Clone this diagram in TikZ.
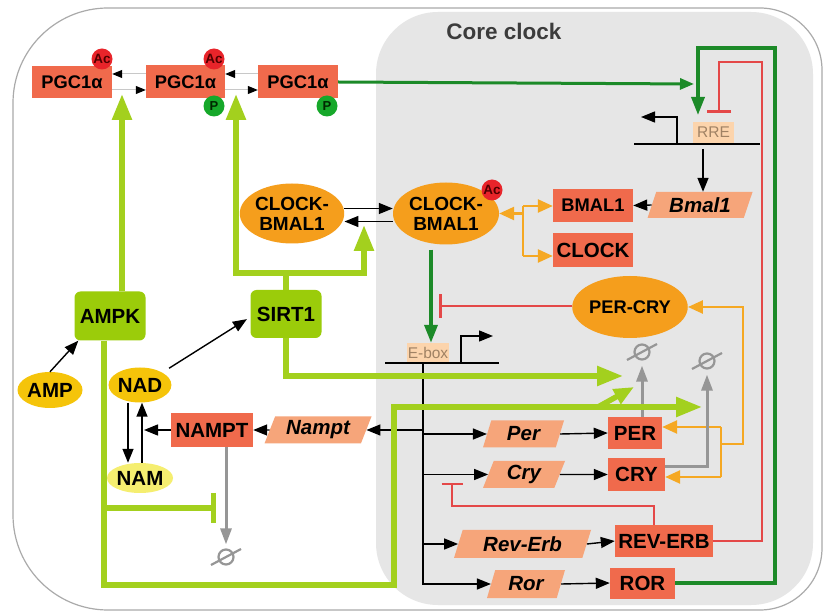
\documentclass[tikz,border=0pt]{standalone}
\usepackage{fontspec}
\setmainfont{Liberation Sans}
\usetikzlibrary{arrows.meta,shapes.geometric}
\definecolor{tom}{RGB}{240,106,76}
\definecolor{sal}{RGB}{246,165,122}
\definecolor{orn}{RGB}{245,158,28}
\definecolor{goldc}{RGB}{245,196,10}
\definecolor{palec}{RGB}{245,238,112}
\definecolor{limef}{RGB}{155,204,10}
\definecolor{limel}{RGB}{163,208,30}
\definecolor{dgreen}{RGB}{28,138,40}
\definecolor{redc}{RGB}{228,72,72}
\definecolor{orc}{RGB}{245,168,35}
\definecolor{grayc}{RGB}{150,150,150}
\definecolor{lightg}{RGB}{200,200,200}
\definecolor{coreg}{RGB}{230,230,230}
\definecolor{borderc}{RGB}{170,170,170}
\definecolor{peach}{RGB}{252,212,172}
\definecolor{sitetxt}{RGB}{160,130,100}
\definecolor{titlec}{RGB}{60,60,60}
\definecolor{acred}{RGB}{232,36,42}
\definecolor{actxt}{RGB}{80,0,0}
\definecolor{pgreen}{RGB}{22,168,42}
\definecolor{ptxt}{RGB}{0,40,0}
\begin{document}
\begin{tikzpicture}[x=1pt,y=-1pt,
  fA/.style={font=\fontsize{20.5}{22}\selectfont\bfseries},
  prot/.style={rectangle, fill=tom, inner sep=0pt, fA},
  mrna/.style={trapezium, trapezium left angle=60, trapezium right angle=120,
    trapezium stretches body=true, fill=sal, inner sep=0pt,
    font=\fontsize{20.5}{22}\selectfont\bfseries\itshape},
  cplx/.style={ellipse, fill=orn, inner sep=0pt, align=center,
    font=\fontsize{19}{20}\selectfont\bfseries},
  kin/.style={rectangle, rounded corners=6pt, fill=limef, inner sep=0pt, fA},
  met/.style={ellipse, inner sep=0pt, fA},
  site/.style={rectangle, fill=peach, text=sitetxt, inner sep=1pt,
    font=\fontsize{15.5}{16}\selectfont},
  acmark/.style={circle, fill=acred, text=actxt, inner sep=0pt, minimum size=21pt,
    font=\fontsize{13.5}{14}\selectfont\bfseries},
  pmark/.style={circle, fill=pgreen, text=ptxt, inner sep=0pt, minimum size=21pt,
    font=\fontsize{13}{13}\selectfont\bfseries},
  nul/.style={circle, draw=grayc, line width=2.2pt, minimum size=15pt, inner sep=0pt},
  ba/.style={draw=black, line width=1.4pt, -{Triangle[length=14pt,width=11pt]}},
  bl/.style={draw=black, line width=1.4pt},
  pga/.style={draw=lightg, line width=1pt, -{Triangle[length=10pt,width=8pt,color=black]}},
  la/.style={draw=limel, line width=5.5pt, -{Triangle[length=26pt,width=19pt]}},
  ll/.style={draw=limel, line width=5.5pt},
  lbar/.style={draw=limel, line width=5.5pt, -{Bar[width=30pt]}},
  ga/.style={draw=dgreen, line width=3.5pt, -{Triangle[length=18pt,width=13pt]}},
  rinh/.style={draw=redc, line width=2.5pt, -{Bar[width=24pt]}},
  oa/.style={draw=orc, line width=2.5pt, -{Triangle[length=15pt,width=13pt]}},
  ol/.style={draw=orc, line width=2.5pt},
  gra/.style={draw=grayc, line width=3pt, -{Triangle[length=16pt,width=11pt]}},
  nslash/.style={draw=grayc, line width=2.2pt}
]
\useasboundingbox (0,0) rectangle (823,612);
\fill[white] (0,0) rectangle (823,612);
% core clock region
\fill[coreg, rounded corners=62pt] (376,12) rectangle (813,605);
% outer cell border
\draw[borderc, line width=1.2pt, rounded corners=95pt] (13,300) -- (13,8) -- (420,8)
  [rounded corners=62pt] -- (822,8) -- (822,610) -- (420,610)
  [rounded corners=95pt] -- (13,610) -- cycle;
\node[font=\fontsize{22.5}{24}\selectfont\bfseries, text=titlec] (title) at (504,31) {Core clock};

% ---- nodes
\node[prot, minimum width=80pt, minimum height=32pt, font=\fontsize{18.3}{20}\selectfont\bfseries] (pgc1) at (72,82) {PGC1α};
\node[prot, minimum width=79pt, minimum height=33pt, font=\fontsize{18.3}{20}\selectfont\bfseries] (pgc2) at (185.5,82) {PGC1α};
\node[prot, minimum width=80pt, minimum height=33pt, font=\fontsize{18.3}{20}\selectfont\bfseries] (pgc3) at (298,82) {PGC1α};
\node[acmark] (ac1) at (102,59) {Ac};
\node[acmark] (ac2) at (214,59) {Ac};
\node[pmark] (p2) at (214,106) {P};
\node[pmark] (p3) at (327,106) {P};

\node[kin, minimum width=71pt, minimum height=49pt] (ampk) at (110,316) {AMPK};
\node[kin, minimum width=71pt, minimum height=48pt] (sirt) at (286,314) {SIRT1};
\node[met, fill=goldc, minimum width=65pt, minimum height=36pt] (amp) at (50,390) {AMP};
\node[met, fill=goldc, minimum width=60pt, minimum height=35pt] (nad) at (140,385) {NAD};
\node[met, fill=palec, minimum width=59pt, minimum height=30pt] (nam) at (140,478) {NAM};
\node[prot, minimum width=82pt, minimum height=34pt] (nampt) at (212,430) {NAMPT};
\node[mrna, minimum width=107pt, minimum height=27pt] (namptm) at (318,430) {Nampt};
\node[nul] (nul0) at (226,557) {};

\node[cplx, minimum width=100pt, minimum height=60pt] (cbl) at (292,213.5) {CLOCK-\\BMAL1};
\node[cplx, minimum width=106pt, minimum height=62pt] (cbr) at (446,213.5) {CLOCK-\\BMAL1};
\node[acmark] (ac3) at (492,190) {Ac};
\node[prot, minimum width=80pt, minimum height=33pt, font=\fontsize{18.3}{20}\selectfont\bfseries] (bmal1p) at (593,205.5) {BMAL1};
\node[prot, minimum width=80pt, minimum height=34pt] (clockp) at (593,250) {CLOCK};
\node[mrna, minimum width=105pt, minimum height=26pt] (bmal1m) at (700,205) {Bmal1};
\node[site, minimum width=41pt, minimum height=21pt] (rre) at (713.5,132.5) {RRE};
\node[site, minimum width=42pt, minimum height=19pt] (ebox) at (428,352.5) {E-box};

\node[cplx, minimum width=90pt, minimum height=62pt, font=\fontsize{18.3}{20}\selectfont\bfseries] (percry) at (630,307) {PER-CRY};
\node[mrna, minimum width=81pt, minimum height=27pt] (perm) at (523.5,434) {Per};
\node[mrna, minimum width=82pt, minimum height=27pt] (crym) at (524,474.5) {Cry};
\node[mrna, minimum width=137pt, minimum height=28pt] (revm) at (522.5,544) {Rev-Erb};
\node[mrna, minimum width=78pt, minimum height=28pt] (rorm) at (526,584) {Ror};
\node[prot, minimum width=54pt, minimum height=32pt] (perp) at (635,433) {PER};
\node[prot, minimum width=57pt, minimum height=33pt] (cryp) at (636.5,474.5) {CRY};
\node[prot, minimum width=98pt, minimum height=32pt] (revp) at (664,541) {REV-ERB};
\node[prot, minimum width=65pt, minimum height=31pt] (rorp) at (642.5,583) {ROR};
\node[nul] (nul1) at (642,352) {};
\node[nul] (nul2) at (707,361) {};
% slashes of the empty-set symbols
\foreach \n in {nul0,nul1,nul2}
  \draw[nslash] ([shift={(-15,8)}]\n.center) -- ([shift={(15,-8)}]\n.center);

% ---- coordinates
\coordinate (rrein) at (694,84);
\coordinate (rretip) at (698,115);
\coordinate (rrebar) at (719,113);
\coordinate (rreout) at (703,149);
\coordinate (oj) at (523,213.5);
\coordinate (ojt) at (523,206);
\coordinate (ojb) at (523,256);
\coordinate (ebar) at (439,306);
\coordinate (etop) at (423,363);
\coordinate (opt) at (721,427);
\coordinate (opb) at (721,477);
\coordinate (opm) at (721,444);
\coordinate (crybar) at (452,483);
\coordinate (gap1) at (122,94);
\coordinate (gap2) at (236,94);
\coordinate (sj) at (286,273);
\coordinate (cbtip) at (364,225);
\coordinate (pertip) at (623,376);
\coordinate (crytip) at (702,407);
\coordinate (dstart) at (598,407);
\coordinate (dtip) at (634,387);
\coordinate (bj) at (104,508);
\coordinate (nbar) at (216,508);
\coordinate (nj) at (144,430);

% ---- DNA lines and promoters
\draw[bl] (634,144) -- (760,144);
\draw[ba] (677,144) |- (641,117);
\draw[bl] (385,363) -- (499,363);
\draw[ba] (461,363) |- (493,336);

% ---- PGC1alpha cycle
\draw[pga] ([yshift=8pt]pgc2.west) -- ([yshift=8pt]pgc1.east);
\draw[pga] ([yshift=-8pt]pgc1.east) -- ([yshift=-8pt]pgc2.west);
\draw[pga] ([yshift=8pt]pgc3.west) -- ([yshift=8pt]pgc2.east);
\draw[pga] ([yshift=-8pt]pgc2.east) -- ([yshift=-8pt]pgc3.west);

% ---- green activations
\draw[ga, line width=3pt, -{Triangle[length=14pt,width=11pt]}] (pgc3.east) -- (rrein);
\draw[ga] (rorp.east) -| (775,48) -| (rretip);
\draw[ga] ([xshift=-15pt,yshift=-5pt]cbr.south) -- ([xshift=3pt]ebox.north);

% ---- red inhibitions
\draw[rinh] (revp.east) -| (762,62) -| (rrebar);
\draw[rinh] (percry.west |- ebar) -- (ebar);
\draw[rinh, -{Bar[width=21pt]}] ([xshift=-10pt]revp.north) |- (452,506) -- (crybar);

% ---- RRE -> Bmal1 -> BMAL1
\draw[ba] (rreout) -- (rreout |- bmal1m.north);
\draw[ba] (bmal1m.west) -- (bmal1p.east);

% ---- CLOCK-BMAL1 complex formation
\draw[oa] (oj) -- (cbr.east);
\draw[ol] (ojt) -- (ojb);
\draw[oa] (ojt) -- (ojt -| bmal1p.west);
\draw[oa] (ojb) -- (ojb -| clockp.west);
\draw[ba] ([yshift=5pt]cbl.east) -- ([yshift=5pt]cbr.west);
\draw[ba] ([yshift=-8pt]cbr.west) -- ([yshift=-8pt]cbl.east);

% ---- E-box targets
\draw[ba] (etop) |- (rorm.west);
\draw[ba] (etop |- namptm.east) -- (namptm.east);
\draw[ba] (etop |- perm.west) -- (perm.west);
\draw[ba] (etop |- crym.west) -- (crym.west);
\draw[ba] (etop |- revm.west) -- (revm.west);
\draw[ba] (perm.east) -- (perp.west);
\draw[ba] (crym.east) -- (cryp.west);
\draw[ba] (revm.east) -- (revp.west);
\draw[ba] (rorm.east) -- (rorp.west);

% ---- PER-CRY complex formation
\draw[oa] (opt) -- (opt -| perp.east);
\draw[oa] (opb) -- (opb -| cryp.east);
\draw[ol] (opt) -- (opb);
\draw[oa] (opm) -| (743,307) -- (percry.east);

% ---- degradation
\draw[gra, shorten >=5pt] ([xshift=7pt]perp.north) -- (nul1);
\draw[gra, shorten >=5pt] ([yshift=8pt]cryp.east) -| (nul2);
\draw[gra, shorten >=4pt] ([xshift=14pt]nampt.south) -- (nul0);

% ---- metabolism
\draw[ba] (amp.north) -- ([xshift=4pt]ampk.south west);
\draw[ba, shorten <=8pt, shorten >=4pt] (nad.north east) -- ([yshift=-3pt]sirt.west);
\draw[ba] ([xshift=-12pt]nad.south) -- ([xshift=-12pt]nam.north);
\draw[ba] ([xshift=2pt]nam.north) -- ([xshift=2pt]nad.south);
\draw[ba] (nampt.west) -- (nj);
\draw[ba] (namptm.west) -- (nampt.east);

% ---- AMPK / SIRT1 actions
\draw[la] ([xshift=12pt]ampk.north) -- (gap1);
\draw[ll] (sirt.north) -- (sj);
\draw[la] (sj) -| (gap2);
\draw[la] (sj) -| (cbtip);
\draw[la] (sirt.south) |- (pertip);
\draw[la] ([xshift=-6pt]ampk.south) |- (394,585) |- (crytip);
\draw[la, -{Triangle[length=20pt,width=16pt]}] (dstart) -- (dtip);
\draw[lbar] (bj) -- (nbar);
\end{tikzpicture}
\end{document}
